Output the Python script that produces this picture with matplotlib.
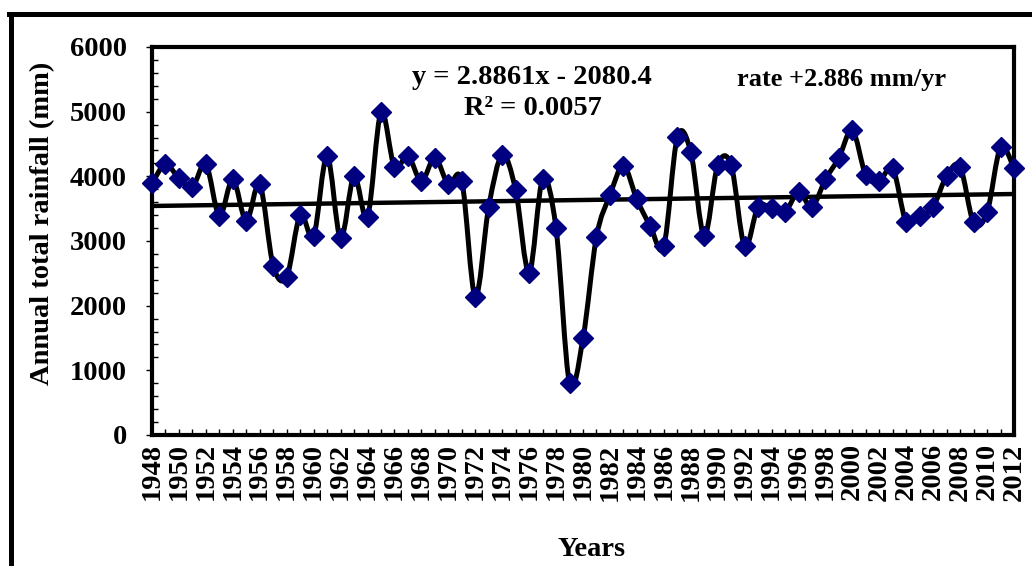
import numpy as np
import matplotlib
matplotlib.use('Agg')
from matplotlib import pyplot as plt
from matplotlib.path import Path
from matplotlib.patches import PathPatch
from matplotlib.lines import Line2D

years = np.arange(1948, 2013)
rainfall = [3890, 4188, 3967, 3838, 4188, 3390, 3952, 3307, 3875, 2617,
            2447, 3400, 3076, 4317, 3040, 4003, 3374, 4988, 4147, 4317,
            3926, 4286, 3875, 3931, 2138, 3529, 4328, 3787, 2509, 3952,
            3194, 799, 1494, 3065, 3709, 4163, 3642, 3230, 2921, 4601,
            4379, 3076, 4173, 4173, 2921, 3529, 3503, 3452, 3755, 3529,
            3952, 4286, 4714, 4018, 3926, 4122, 3287, 3385, 3529, 4008,
            4147, 3287, 3442, 4446, 4122]
slope = 2.8861
intercept = -2080.4
eq_text = 'y = 2.8861x - 2080.4'
r2_text = 'R² = 0.0057'
rate_text = 'rate +2.886 mm/yr'

plt.rcParams['font.family'] = ['Liberation Serif', 'DejaVu Serif']
plt.rcParams['font.weight'] = 'bold'
FS = 20.5

fig = plt.figure(figsize=(10.32, 5.66), dpi=100)
ax = fig.add_axes([152 / 1032, 1 - 435 / 566, (1014 - 152) / 1032, (435 - 47) / 566])

# smoothed line (Excel style bezier through the points)
x = years.astype(float)
y = np.array(rainfall, dtype=float)
pts = np.column_stack([x, y])
ext = np.vstack([pts[0], pts, pts[-1]])
verts = [pts[0]]
codes = [Path.MOVETO]
for i in range(len(pts) - 1):
    p0, p1, p2, p3 = ext[i], ext[i + 1], ext[i + 2], ext[i + 3]
    verts += [p1 + (p2 - p0) / 6, p2 - (p3 - p1) / 6, p2]
    codes += [Path.CURVE4] * 3
ax.add_patch(PathPatch(Path(verts, codes), fill=False, lw=3.6, edgecolor='black',
                       joinstyle='round', capstyle='round', zorder=2))
ax.plot(years, rainfall, ls='none', marker='D', ms=10.5, color='#000080',
        mec='#000080', zorder=3, clip_on=False)

# trend line
tx = np.array([years[0], years[-1]])
ax.plot(tx, slope * tx + intercept, color='black', lw=3.2, zorder=2.5)

ax.set_xlim(1948, 2012)
ax.set_ylim(0, 6000)
ax.set_xticks(years[::2])
ax.set_xticks(years, minor=True)
ax.set_xticklabels([str(v) for v in years[::2]], rotation=90, fontsize=FS, fontweight='bold')
ax.set_yticks(range(0, 6001, 1000))
ax.set_yticks(range(0, 6001, 200), minor=True)
ax.set_yticklabels([str(v) for v in range(0, 6001, 1000)], fontsize=FS, fontweight='bold')
ax.tick_params(axis='x', which='both', direction='in', length=4, width=1, pad=6)
ax.tick_params(axis='y', which='major', direction='out', length=4, width=1, pad=14)
ax.tick_params(axis='y', which='minor', direction='in', length=4, width=1)
for s in ax.spines.values():
    s.set_linewidth(3)

ax.text(1976.2, 5530, eq_text, ha='center', va='center', fontsize=FS, fontweight='bold')
ax.text(1976.3, 5050, r2_text, ha='center', va='center', fontsize=FS, fontweight='bold')
ax.text(1999.2, 5500, rate_text, ha='center', va='center', fontsize=FS - 1.5, fontweight='bold')

fig.text(43 / 1032, 1 - 223 / 566, 'Annual total rainfall (mm)', rotation=90,
         ha='center', va='center', fontsize=FS, fontweight='bold')
fig.text(592 / 1032, 1 - 550 / 566, 'Years', ha='center', va='center',
         fontsize=FS, fontweight='bold')

# outer chart border (top and left visible)
fig.add_artist(Line2D([11 / 1032, 11 / 1032], [0, 1 - 14 / 566], color='black', lw=3.6,
                      transform=fig.transFigure))
fig.add_artist(Line2D([9 / 1032, 1.0], [1 - 14 / 566, 1 - 14 / 566], color='black', lw=3.6,
                      transform=fig.transFigure))

fig.savefig('out.png', dpi=100)
